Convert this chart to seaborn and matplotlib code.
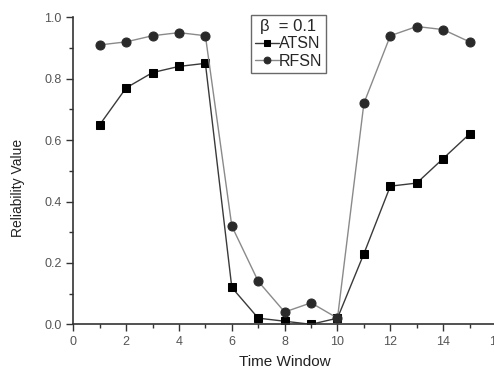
import matplotlib
matplotlib.use("Agg")
import matplotlib.pyplot as plt
import seaborn as sns
import pandas as pd
from matplotlib.ticker import MultipleLocator

time_window = [1, 2, 3, 4, 5, 6, 7, 8, 9, 10, 11, 12, 13, 14, 15]
atsn = [0.65, 0.77, 0.82, 0.84, 0.85, 0.12, 0.02, 0.01, 0.0, 0.02, 0.23, 0.45, 0.46, 0.54, 0.62]
rfsn = [0.91, 0.92, 0.94, 0.95, 0.94, 0.32, 0.14, 0.04, 0.07, 0.02, 0.72, 0.94, 0.97, 0.96, 0.92]
x_ticks = [0, 2, 4, 6, 8, 10, 12, 14, 16]
y_ticks = [0.0, 0.2, 0.4, 0.6, 0.8, 1.0]

sns.set_theme(style="white")
plt.rcParams['font.family'] = ['Liberation Sans', 'DejaVu Sans']

df = pd.DataFrame({"x": time_window, "ATSN": atsn, "RFSN": rfsn})

fig = plt.figure(figsize=(4.94, 3.70), dpi=100)
ax = fig.add_axes([73.3 / 494, 1 - 324.3 / 370, (496 - 73.3) / 494, (324.3 - 17.3) / 370])

sns.lineplot(data=df, x="x", y="ATSN", ax=ax, color="#3a3a3a", lw=1.0,
             marker="s", markersize=6, markerfacecolor="black", markeredgecolor="black",
             label="ATSN")
sns.lineplot(data=df, x="x", y="RFSN", ax=ax, color="#8a8a8a", lw=1.0,
             marker="o", markersize=6.5, markerfacecolor="#2a2a2a", markeredgecolor="#2a2a2a",
             label="RFSN")

ax.set_xlim(0, 16)
ax.set_ylim(0, 1.0)
ax.set_xticks(x_ticks)
ax.set_yticks(y_ticks)
ax.set_xticklabels([str(t) for t in x_ticks])
ax.set_yticklabels([f"{t:.1f}" for t in y_ticks])
ax.xaxis.set_minor_locator(MultipleLocator(1))
ax.yaxis.set_minor_locator(MultipleLocator(0.1))

for s in ["top", "right"]:
    ax.spines[s].set_visible(False)
for s in ["left", "bottom"]:
    ax.spines[s].set_color("#333333")
    ax.spines[s].set_linewidth(1.2)

ax.tick_params(axis="both", which="major", direction="out", length=5, width=1,
               colors="#333333", labelsize=9, labelcolor="#555555", bottom=True, left=True)
ax.tick_params(axis="both", which="minor", direction="out", length=3, width=1,
               colors="#333333", bottom=True, left=True)

ax.set_xlabel("Time Window", fontsize=11, color="#222222", labelpad=5)
ax.set_ylabel("")
fig.text(18 / 494, 1 - 188 / 370, "Reliability Value", rotation=90, fontsize=10,
         color="#222222", ha="center", va="center")

leg = ax.legend(title="β  = 0.1", loc="upper left", bbox_to_anchor=((250.7 - 73.3) / 422.7, (324.3 - 15) / 307),
                frameon=True, fancybox=False, fontsize=11.5, title_fontsize=12,
                handlelength=1.5, handletextpad=0.0, borderpad=0.25, labelspacing=0.15,
                borderaxespad=0, markerscale=0.75)
leg.get_frame().set_edgecolor("#444444")
leg.get_frame().set_linewidth(1.0)

fig.savefig("out.png", dpi=100)
